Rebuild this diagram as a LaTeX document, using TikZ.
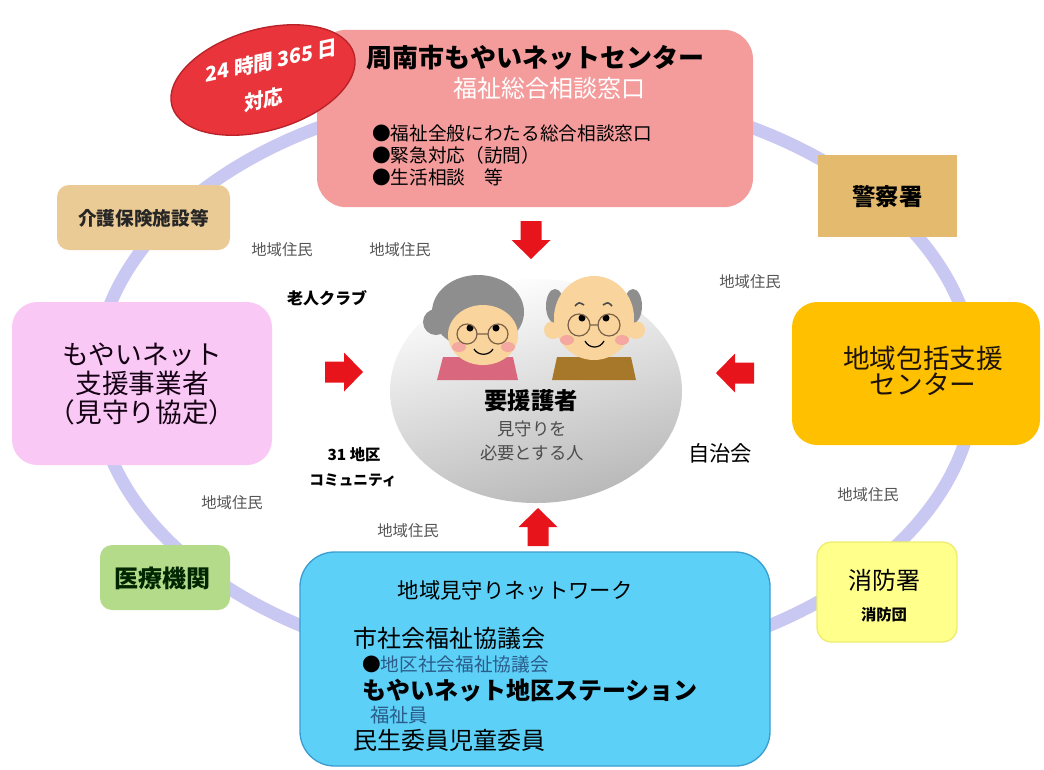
\documentclass[tikz,border=0pt]{standalone}
\usepackage{fontspec}
\setmainfont{Noto Sans CJK JP}
\newfontfamily\jpsl{Noto Sans CJK JP}[FakeSlant=0.22]
\usetikzlibrary{shapes.geometric}

\definecolor{ringc}{HTML}{C8C8F2}
\definecolor{centerpink}{HTML}{F49C9C}
\definecolor{clockred}{HTML}{E8343A}
\definecolor{clockedge}{HTML}{B82228}
\definecolor{tanA}{HTML}{EBCB95}
\definecolor{tanB}{HTML}{E3BA6E}
\definecolor{lilac}{HTML}{FAC8F5}
\definecolor{amber}{HTML}{FFC000}
\definecolor{leaf}{HTML}{B3DB8A}
\definecolor{lemon}{HTML}{FFFF8C}
\definecolor{lemonedge}{HTML}{EDED70}
\definecolor{sky}{HTML}{5CD0F7}
\definecolor{skyedge}{HTML}{3C9ED0}
\definecolor{arrowred}{HTML}{E8141C}
\definecolor{labelgray}{HTML}{555555}
\definecolor{navytext}{HTML}{2B5C8A}
\definecolor{skin}{HTML}{F9D49C}
\definecolor{hairgray}{HTML}{8E8E8E}
\definecolor{cheek}{HTML}{F5A8A0}
\definecolor{shirtpink}{HTML}{D9687E}
\definecolor{shirtbrown}{HTML}{A8782A}
\definecolor{frame}{HTML}{7A6048}

\newcommand\fz[2]{\fontsize{#1}{#2}\selectfont\lineskiplimit=-20pt\relax}

\tikzset{
  panel/.style={draw=none, inner sep=0pt},
  txt/.style={inner sep=0pt, align=center},
  resident/.style={inner sep=0pt, text=labelgray, font=\fz{11.5}{13}},
  blockarrow/.pic={
    \fill[arrowred] (-19,-10.5) -- (0,-10.5) -- (0,-19.5) -- (19,0)
      -- (0,19.5) -- (0,10.5) -- (-19,10.5) -- cycle;
  }
}

\begin{document}
\begin{tikzpicture}[x=0.75pt,y=-0.75pt]
\useasboundingbox[fill=white] (0,0) rectangle (1044,769);

% surrounding network ring
\draw[ringc, line width=9.5pt] (535,380) ellipse [x radius=440, y radius=290];

% central consultation office
\node[panel, fill=centerpink, minimum width=327pt, minimum height=133pt,
      rounded corners=22pt] (center) at (535,118.5) {};
\node[txt, font=\fz{19.5}{22}\bfseries] (ctitle) at (535,58) {周南市もやいネットセンター};
\node[txt, text=white, font=\fz{18}{20}] (csub) at (549,88) {福祉総合相談窓口};
\node[txt, anchor=west, align=left, font=\fz{14}{16.5}] (cbul) at (372,155)
  {●福祉全般にわたる総合相談窓口\\●緊急対応（訪問）\\●生活相談　等};

% 24h badge
\node[ellipse, fill=clockred, draw=clockedge, line width=1pt,
      minimum width=142pt, minimum height=76pt, rotate=16] (clock) at (263,80) {};
\node[txt, text=white, font=\jpsl\bfseries\fz{15}{17}, rotate=12] (clockA) at (270,61) {24 時間 365 日};
\node[txt, text=white, font=\jpsl\bfseries\fz{15}{17}, rotate=12] (clockB) at (262,100) {対応};

% partner boxes
\node[panel, fill=tanA, minimum width=129.75pt, minimum height=48.75pt,
      rounded corners=9pt] (care) at (143.5,217.5) {};
\node[txt, font=\fz{14}{16}\bfseries, text=black!85] (careT) at (143.5,218) {介護保険施設等};

\node[panel, fill=tanB, minimum width=104.25pt, minimum height=61.5pt] (police) at (887.5,196) {};
\node[txt, font=\fz{17.5}{19}\bfseries] (policeT) at (887.5,197) {警察署};

\node[panel, fill=lilac, minimum width=195pt, minimum height=122.25pt,
      rounded corners=19pt] (support) at (142,383.5) {};
\node[txt, font=\fz{20}{21.4}, text=black!85!violet] (supportT) at (142,384)
  {もやいネット\\支援事業者\\（見守り協定）};

\node[panel, fill=amber, minimum width=186pt, minimum height=107.25pt,
      rounded corners=19pt] (hub) at (916,373.5) {};
\node[txt, font=\fz{20}{19.5}, text=black!85!brown] (hubT) at (923,371)
  {地域包括支援\\センター};

\node[panel, fill=leaf, minimum width=97.5pt, minimum height=48.75pt,
      rounded corners=9pt] (clinic) at (165,577.5) {};
\node[txt, font=\fz{18}{20}\bfseries, text=black!85!green] (clinicT) at (162,578) {医療機関};

\node[panel, fill=lemon, draw=lemonedge, line width=1pt, minimum width=105pt,
      minimum height=75pt, rounded corners=11pt] (fire) at (887,592) {};
\node[txt, font=\fz{18}{20}] (fireT) at (884,580) {消防署};
\node[txt, font=\fz{11.5}{13}\bfseries] (fireS) at (884,615) {消防団};

% neighbourhood watch network
\node[panel, fill=sky, draw=skyedge, line width=1pt, minimum width=352.5pt,
      minimum height=160.5pt, rounded corners=26pt] (watch) at (535,659) {};
\node[txt, font=\fz{16}{18}] (watchT) at (515,590) {地域見守りネットワーク};
\node[txt, anchor=west, font=\fz{18}{20}] (w1) at (353,638) {市社会福祉協議会};
\node[txt, anchor=west, font=\fz{14}{16}, text=navytext] (w2) at (362,664)
  {\textcolor{black}{●}地区社会福祉協議会};
\node[txt, anchor=west, font=\fz{18}{20}\bfseries] (w3) at (362,690) {もやいネット地区ステーション};
\node[txt, anchor=west, font=\fz{14.5}{16}, text=navytext] (w4) at (370,715) {福祉員};
\node[txt, anchor=west, font=\fz{18}{20}] (w5) at (353,740) {民生委員児童委員};

% person needing support
\node[ellipse, minimum width=219pt, minimum height=168pt, top color=white,
      bottom color=black!28, shading angle=15] (person) at (536,391) {};

% grandmother
\fill[shirtpink] (443,357) -- (513,357) -- (518,380) -- (437,380) -- cycle;
\fill[hairgray] (478,312) ellipse [x radius=46, y radius=37];
\fill[hairgray] (436,322) circle [radius=13];
\fill[skin] (483,335) ellipse [x radius=35, y radius=30];
\fill[cheek] (459,347) ellipse [x radius=7, y radius=5];
\fill[cheek] (508,347) ellipse [x radius=7, y radius=5];
\fill (470,328) circle [radius=3.5];
\fill (496,328) circle [radius=3.5];
\draw[frame, line width=0.9pt] (467,334) circle [radius=10] (498,334) circle [radius=10]
  (477,334) -- (488,334);
\draw[line width=0.9pt] (474,349) .. controls (478,356) and (489,356) .. (493,349);

% grandfather
\fill[shirtbrown] (557,357) -- (631,357) -- (636,380) -- (552,380) -- cycle;
\fill[skin] (553,330) circle [radius=9] (636,330) circle [radius=9];
\fill[hairgray] (555,306) ellipse [x radius=9, y radius=17];
\fill[hairgray] (633,306) ellipse [x radius=9, y radius=17];
\fill[skin] (594,318) ellipse [x radius=40, y radius=42];
\fill[cheek] (567,340) ellipse [x radius=7, y radius=5];
\fill[cheek] (622,340) ellipse [x radius=7, y radius=5];
\draw[black!70, line width=1.2pt] (575,306) .. controls (579,302) .. (584,305)
  (603,305) .. controls (608,302) .. (612,306);
\fill (582,318) circle [radius=3.5];
\fill (606,318) circle [radius=3.5];
\draw[frame, line width=0.9pt] (579,325) circle [radius=11] (609,325) circle [radius=11]
  (590,325) -- (598,325);
\draw[line width=0.9pt] (585,341) .. controls (589,349) and (600,349) .. (604,341);

\node[txt, font=\fz{17.5}{19}\bfseries] (personT) at (531,401) {要援護者};
\node[txt, font=\fz{13}{17.5}, text=black!70] (personS) at (532,441) {見守りを\\必要とする人};

% arrows toward the person
\pic[rotate=-90] (arrTop) at (531,240) {blockarrow};
\pic (arrLeft) at (344,372) {blockarrow};
\pic[rotate=180] (arrRight) at (735,373) {blockarrow};
\pic[rotate=90] (arrBottom) at (538,527) {blockarrow};

% community labels
\node[resident] (res1) at (282,250) {地域住民};
\node[resident] (res2) at (400,250) {地域住民};
\node[resident] (res3) at (750,282) {地域住民};
\node[resident] (res4) at (232,503) {地域住民};
\node[resident] (res5) at (408,531) {地域住民};
\node[resident] (res6) at (868,495) {地域住民};
\node[txt, font=\fz{12}{14}\bfseries] (club) at (327,298) {老人クラブ};
\node[txt, font=\fz{11.5}{13}\bfseries] (dist) at (354,455) {31 地区};
\node[txt, font=\fz{11}{13}\bfseries] (comm) at (353,480) {コミュニティ};
\node[txt, font=\fz{16}{18}] (assoc) at (720,453) {自治会};
\end{tikzpicture}
\end{document}
